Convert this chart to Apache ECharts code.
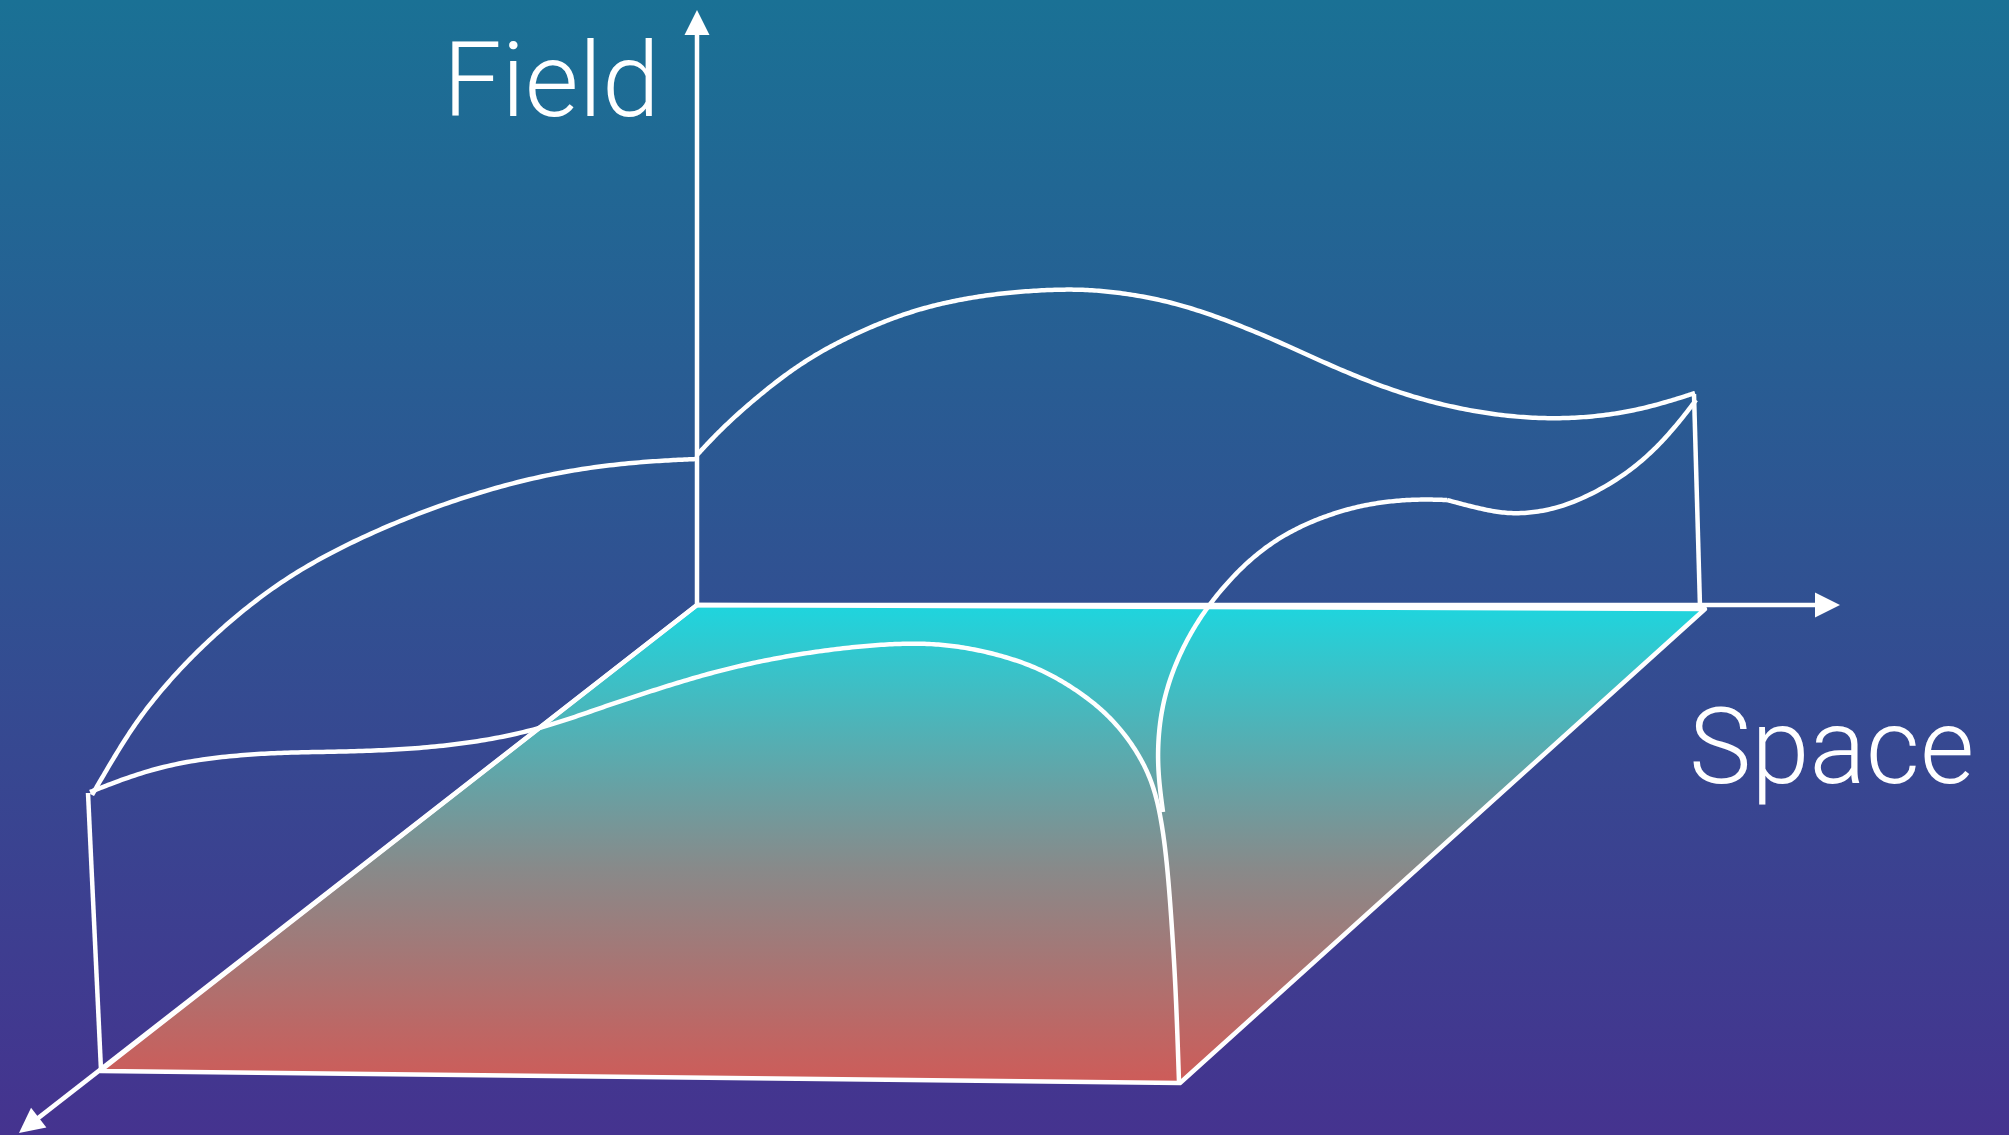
<!DOCTYPE html>
<html>
<head>
<meta charset="utf-8">
<script src="https://cdn.jsdelivr.net/npm/echarts@6/dist/echarts.min.js"></script>
<style>
  html, body { margin: 0; padding: 0; overflow: hidden; }
  #chart { width: 2009px; height: 1135px; }
</style>
</head>
<body>
<div id="chart"></div>
<script>
// floor plane corners (x, y in picture units, y grows downwards)
const floorPlane = [[697, 605], [1705, 609], [1180, 1083], [100, 1071]]

// axes: start x, start y, tip x, tip y
const axesData = [
  [697, 605, 697, 10],    // Field
  [697, 605, 1840, 605],  // Space
  [697, 605, 19, 1133]    // depth
]

// curves
const backTopCurve = [[697, 455], [723, 427], [757, 397], [790, 371], [823, 350], [857, 333], [890, 319],
  [923, 308], [957, 300], [1000, 293], [1057, 289], [1100, 290], [1150, 297], [1200, 310],
  [1267, 336], [1333, 367], [1400, 394], [1467, 411], [1530, 419], [1590, 418], [1645, 409], [1695, 393]]
const backLeftCurve = [[92, 795], [117, 752], [142, 713], [185, 662], [244, 608], [305, 565], [387, 525],
  [468, 495], [550, 473], [631, 462], [697, 459]]
const frontCurve = [[90, 792], [162, 764], [244, 754], [305, 752], [387, 751], [468, 744], [538, 730],
  [600, 708], [660, 688], [720, 670], [780, 657], [840, 648], [900, 643], [945, 644], [990, 652],
  [1035, 666], [1073, 687], [1107, 713], [1132, 743], [1150, 775], [1160, 810], [1167, 860],
  [1172, 927], [1176, 993], [1179, 1082]]
const rightCurveLow = [[1163, 812], [1157, 767], [1159, 722], [1168, 682], [1185, 642], [1208, 605],
  [1240, 568], [1273, 541], [1307, 523], [1340, 511], [1373, 503], [1413, 499], [1447, 500]]
const rightCurveHigh = [[1447, 500], [1488, 511], [1520, 515], [1569, 507], [1631, 473], [1671, 433], [1696, 400]]
const rightEdge = [[1694, 394], [1700, 607]]
const leftEdge = [[88, 793], [101, 1070]]

const chart = echarts.init(document.getElementById('chart'), null, { renderer: 'canvas' })

const white = '#ffffff'
const stroke = 4.5

// clamped uniform cubic b-spline through the read points (pixel space)
function smoothPath (pts, steps) {
  if (pts.length < 3) return pts
  const n = pts.length
  const c = [pts[0], pts[0], ...pts, pts[n - 1], pts[n - 1]]
  const out = []
  for (let i = 0; i < c.length - 3; i++) {
    const p0 = c[i], p1 = c[i + 1], p2 = c[i + 2], p3 = c[i + 3]
    for (let s = (i === 0 ? 0 : 1); s <= steps; s++) {
      const t = s / steps
      const t2 = t * t
      const t3 = t2 * t
      const b0 = (1 - t) * (1 - t) * (1 - t) / 6
      const b1 = (3 * t3 - 6 * t2 + 4) / 6
      const b2 = (-3 * t3 + 3 * t2 + 3 * t + 1) / 6
      const b3 = t3 / 6
      out.push([
        b0 * p0[0] + b1 * p1[0] + b2 * p2[0] + b3 * p3[0],
        b0 * p0[1] + b1 * p1[1] + b2 * p2[1] + b3 * p3[1]
      ])
    }
  }
  return out
}

const curveSeries = (data) => ({
  type: 'custom',
  z: 4,
  silent: true,
  data: data,
  renderItem: (params, api) => {
    if (params.dataIndex !== 0) return
    const px = data.map(p => api.coord(p))
    return {
      type: 'polyline',
      shape: { points: smoothPath(px, 20) },
      style: { stroke: white, lineWidth: stroke, fill: null, lineJoin: 'round' }
    }
  }
})

const option = {
  animation: false,
  backgroundColor: {
    type: 'linear', x: 0, y: 0, x2: 0, y2: 1,
    colorStops: [{ offset: 0, color: '#1a7195' }, { offset: 1, color: '#45338f' }]
  },
  grid: { left: 0, right: 0, top: 0, bottom: 0 },
  xAxis: { type: 'value', min: 0, max: 2009, show: false },
  yAxis: { type: 'value', min: 0, max: 1135, inverse: true, show: false },
  graphic: [
    {
      type: 'text', left: 443, top: 38, z: 10,
      style: { text: 'Field', fill: white, font: '300 104px Roboto' }
    },
    {
      type: 'text', left: 1689, top: 704, z: 10,
      style: { text: 'Space', fill: white, font: '300 105px Roboto' }
    }
  ],
  series: [
    {
      // floor plane
      type: 'custom',
      z: 2,
      silent: true,
      data: floorPlane,
      renderItem: (params, api) => {
        if (params.dataIndex !== 0) return
        const pts = floorPlane.map(p => api.coord(p))
        return {
          type: 'polygon',
          shape: { points: pts },
          style: {
            fill: new echarts.graphic.LinearGradient(0, 0, 0, 1, [
              { offset: 0, color: '#1dd6df' },
              { offset: 0.55, color: '#888a8a' },
              { offset: 1, color: '#cf5b58' }
            ]),
            stroke: white,
            lineWidth: stroke,
            lineJoin: 'round'
          }
        }
      }
    },
    {
      // axes with arrow heads
      type: 'custom',
      z: 3,
      silent: true,
      data: axesData,
      renderItem: (params, api) => {
        const a = api.coord([api.value(0), api.value(1)])
        const b = api.coord([api.value(2), api.value(3)])
        const dx = b[0] - a[0]
        const dy = b[1] - a[1]
        const len = Math.sqrt(dx * dx + dy * dy)
        const ux = dx / len
        const uy = dy / len
        const head = 25
        const half = 12.5
        const bx = b[0] - ux * head
        const by = b[1] - uy * head
        return {
          type: 'group',
          children: [
            {
              type: 'line',
              shape: { x1: a[0], y1: a[1], x2: bx + ux * 2, y2: by + uy * 2 },
              style: { stroke: white, lineWidth: stroke }
            },
            {
              type: 'polygon',
              shape: { points: [[b[0], b[1]], [bx - uy * half, by + ux * half], [bx + uy * half, by - ux * half]] },
              style: { fill: white }
            }
          ]
        }
      }
    },
    curveSeries(backTopCurve),
    curveSeries(backLeftCurve),
    curveSeries(frontCurve),
    curveSeries(rightCurveLow),
    curveSeries(rightCurveHigh),
    curveSeries(rightEdge),
    curveSeries(leftEdge)
  ]
}

chart.setOption(option)
</script>
</body>
</html>
